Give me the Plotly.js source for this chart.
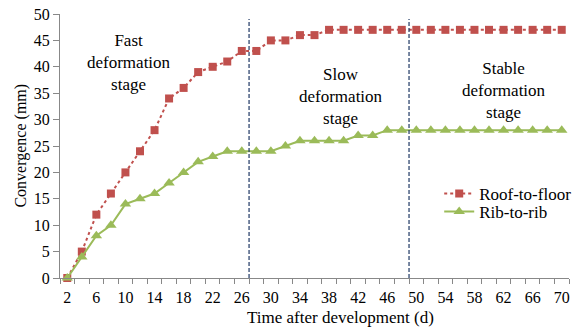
<!DOCTYPE html>
<html>
<head>
<meta charset="utf-8">
<script src="https://cdn.plot.ly/plotly-3.0.1.min.js"></script>
</head>
<body style="margin:0;background:#fff">
<div id="chart" style="width:582px;height:327px"></div>
<script>
// Days after development (category values)
const days = [2,4,6,8,10,12,14,16,18,20,22,24,26,28,30,32,34,36,38,40,42,44,46,48,50,52,54,56,58,60,62,64,66,68,70];
// Convergence (mm)
const roofToFloor = [0,5,12,16,20,24,28,34,36,39,40,41,43,43,45,45,46,46,47,47,47,47,47,47,47,47,47,47,47,47,47,47,47,47,47];
const ribToRib    = [0,4,8,10,14,15,16,18,20,22,23,24,24,24,24,25,26,26,26,26,27,27,28,28,28,28,28,28,28,28,28,28,28,28,28];
// Tick labels shown on the x axis
const xTickLabels = ["2","6","10","14","18","22","26","30","34","38","42","46","50","54","58","62","66","70"];
// Stage boundaries (between categories)
const stageBounds = [27, 49];
const stageLabels = ["Fast<br>deformation<br>stage", "Slow<br>deformation<br>stage", "Stable<br>deformation<br>stage"];
const stageLabelX = [10.5, 39.7, 62.0];
const stageLabelY = [40.9, 34.3, 35.6];

const fam = "Liberation Serif";
const axisGrey = "#888888";

const boundaries = days.map(d => d - 1).concat([days[days.length - 1] + 1]);

const traces = [
  {
    x: days, y: roofToFloor, name: "Roof-to-floor", type: "scatter", mode: "lines+markers",
    line: {color: "#C0504D", width: 2, dash: "dot"},
    marker: {symbol: "square", size: 8, color: "#C0504D"},
    cliponaxis: false, legend: "legend"
  },
  {
    x: days, y: ribToRib, name: "Rib-to-rib", type: "scatter", mode: "lines+markers",
    line: {color: "#9BBB59", width: 2},
    marker: {symbol: "triangle-up", size: 10, color: "#9BBB59"},
    cliponaxis: false, legend: "legend2"
  }
];

const shapes = stageBounds.map(b => ({
  type: "line", xref: "x", yref: "paper", x0: b, x1: b, y0: 0, y1: 0.981,
  line: {color: "#1F3864", width: 1.2, dash: "4px,2px"}
}));

const annotations = stageLabels.map((t, i) => ({
  text: t, x: stageLabelX[i], y: stageLabelY[i], xref: "x", yref: "y",
  showarrow: false, xanchor: "center", yanchor: "middle",
  font: {family: fam, size: 17, color: "#000"}
}));
annotations.push({
  text: "Time after development (d)", xref: "paper", yref: "paper", x: 0.552, y: -0.148,
  showarrow: false, xanchor: "center", yanchor: "middle",
  font: {family: fam, size: 17, color: "#000"}
});
annotations.push({
  text: "Convergence (mm)", xref: "paper", yref: "paper", x: -0.0775, y: 0.5, textangle: -90,
  showarrow: false, xanchor: "center", yanchor: "middle",
  font: {family: fam, size: 16, color: "#000"}
});

const legendBase = {
  xanchor: "left", yanchor: "middle", bgcolor: "rgba(0,0,0,0)",
  font: {family: fam, size: 17, color: "#000"}, tracegroupgap: 0
};

const layout = {
  width: 582, height: 327,
  margin: {l: 60, r: 6, t: 14, b: 49},
  paper_bgcolor: "#fff", plot_bgcolor: "#fff",
  font: {family: fam, color: "#000"},
  showlegend: true,
  legend: Object.assign({x: 0.745, y: 0.318}, legendBase),
  legend2: Object.assign({x: 0.745, y: 0.25}, legendBase),
  xaxis: {
    range: [1, 71], showgrid: false, zeroline: false,
    showline: true, linecolor: axisGrey, linewidth: 1,
    tickmode: "array",
    tickvals: xTickLabels.map(Number), ticktext: xTickLabels,
    ticks: "outside", ticklen: 5, tickcolor: "rgba(0,0,0,0)",
    tickfont: {family: fam, size: 16, color: "#000"},
    minor: {tickmode: "array", tickvals: boundaries, ticks: "outside", ticklen: 5, tickcolor: axisGrey, showgrid: false}
  },
  yaxis: {
    range: [0, 50], dtick: 5, showgrid: false, zeroline: false,
    showline: true, linecolor: axisGrey, linewidth: 1,
    ticks: "outside", ticklen: 6, tickcolor: axisGrey,
    tickfont: {family: fam, size: 16, color: "#000"}
  },
  shapes: shapes,
  annotations: annotations
};

Plotly.newPlot("chart", traces, layout, {displayModeBar: false});
</script>
</body>
</html>
